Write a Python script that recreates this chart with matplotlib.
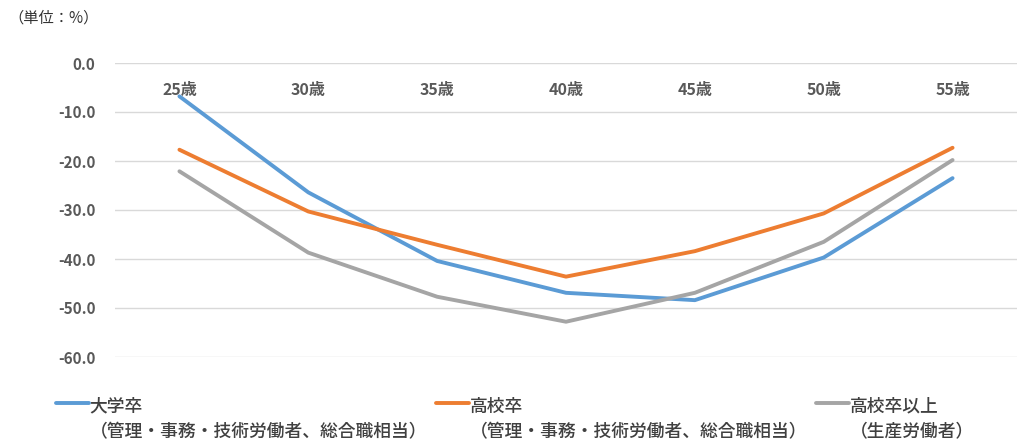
import numpy as np
import matplotlib
matplotlib.use("Agg")
import matplotlib.pyplot as plt
from matplotlib.legend_handler import HandlerLine2D

plt.rcParams['font.family'] = ['Noto Sans CJK JP', 'DejaVu Sans']
plt.rcParams['axes.unicode_minus'] = False

ages = ['25歳', '30歳', '35歳', '40歳', '45歳', '50歳', '55歳']
univ = [-6.8, -26.4, -40.4, -46.9, -48.4, -39.7, -23.5]
high = [-17.7, -30.3, -37.1, -43.6, -38.4, -30.7, -17.3]
high_prod = [-22.1, -38.7, -47.7, -52.8, -46.9, -36.5, -19.8]
yticks = [0, -10, -20, -30, -40, -50, -60]

labels = ['大学卒\n（管理・事務・技術労働者、総合職相当）',
          '高校卒\n（管理・事務・技術労働者、総合職相当）',
          '高校卒以上\n（生産労働者）']
colors = ['#5B9BD5', '#ED7D31', '#A5A5A5']


class TopLineHandler(HandlerLine2D):
    # put the legend line next to the first text line
    def create_artists(self, legend, orig_handle, xdescent, ydescent,
                       width, height, fontsize, trans):
        arts = super().create_artists(legend, orig_handle, xdescent, ydescent,
                                      width, height, fontsize, trans)
        for a in arts:
            a.set_ydata(np.asarray(a.get_ydata()) + 12)
        return arts


fig = plt.figure(figsize=(10.17, 4.43), dpi=100)
ax = fig.add_axes([115 / 1017, 86 / 443, 902 / 1017, 294 / 443])

x = np.arange(len(ages))
for vals, c, lab in zip([univ, high, high_prod], colors, labels):
    ax.plot(x, vals, color=c, lw=2.8, label=lab, solid_capstyle='round')

ax.set_xlim(-0.5, len(ages) - 0.5)
ax.set_ylim(-60, 0)
ax.set_yticks(yticks)
ax.set_yticklabels(['%.1f' % v for v in yticks])
ax.yaxis.grid(True, color='#D9D9D9', lw=1)
ax.set_axisbelow(True)
for s in ax.spines.values():
    s.set_visible(False)
ax.tick_params(axis='y', length=0, pad=14, labelsize=11, labelcolor='#595959')
for t in ax.get_yticklabels():
    t.set_fontweight('bold')

ax.xaxis.tick_top()
ax.set_xticks(x)
ax.set_xticklabels(ages)
ax.tick_params(axis='x', length=0, pad=-25, labelsize=11.5, labelcolor='#595959')
for t in ax.get_xticklabels():
    t.set_fontweight('bold')

fig.text(8 / 1017, 1 - 18 / 443, '（単位：%）', fontsize=11, color='#333333',
         va='center', ha='left')

leg = fig.legend(loc='lower left', bbox_to_anchor=(45 / 1017, -0.02), ncol=3,
                 frameon=False, fontsize=12.8, handlelength=1.85, handletextpad=0.05,
                 columnspacing=0.5, borderaxespad=0.2,
                 handler_map={plt.Line2D: TopLineHandler()})
for t in leg.get_texts():
    t.set_color('#404040')
    t.set_fontweight('medium')
    t.set_linespacing(1.55)

fig.savefig('out.png', dpi=100)
